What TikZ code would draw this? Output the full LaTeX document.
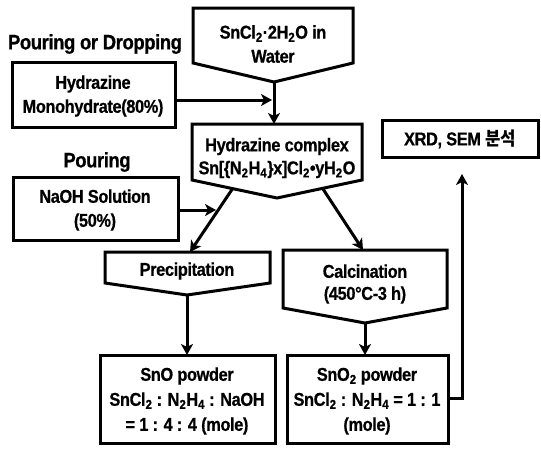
\documentclass[tikz,border=0pt]{standalone}
\usepackage{fontspec}
\setmainfont{Liberation Sans}[FakeStretch=0.88,FakeBold=0.6,LetterSpace=-2]
\newfontfamily\krfont{Noto Sans CJK KR}[FakeStretch=0.9]
\usetikzlibrary{arrows.meta}
\begin{document}
\begin{tikzpicture}[x=1pt,y=1pt,
  box/.style={draw=black,line width=3pt,line join=miter},
  txt/.style={align=center,font=\bfseries\fontsize{18.6}{24}\selectfont,inner sep=0pt},
  lbl/.style={align=center,font=\bfseries\fontsize{21}{24}\selectfont,inner sep=0pt},
  arr/.style={line width=3pt,-{Stealth[length=11pt,width=12pt,inset=3pt]}},
  ln/.style={line width=3pt}]
\useasboundingbox (0,0) rectangle (541,-448);
\fill[white] (0,0) rectangle (541,-448);

% shapes
\draw[box] (193,-8) -- (353,-8) -- (353,-63) -- (274,-82) -- (193,-63) -- cycle;
\draw[box] (12,-62) rectangle (175,-127);
\draw[box] (192,-124) -- (362,-124) -- (362,-180) -- (277,-198) -- (192,-180) -- cycle;
\draw[box] (13,-177) rectangle (178,-240);
\draw[box] (382,-120) rectangle (538,-157);
\draw[box] (105,-252) -- (270,-252) -- (270,-283) -- (187,-295) -- (105,-283) -- cycle;
\draw[box] (283,-250) -- (447,-250) -- (447,-308) -- (365,-323) -- (283,-308) -- cycle;
\draw[box] (100,-355) rectangle (275,-443);
\draw[box] (287,-355) rectangle (448,-443);

% texts
\node[lbl] (lpd) at (95,-44) {Pouring or Dropping};
\node[lbl] (lp) at (97,-162) {Pouring};
\node[txt] (sn) at (273,-44) {SnCl\textsubscript{2}·2H\textsubscript{2}O in\\Water};
\node[txt] (hm) at (93,-96) {Hydrazine\\Monohydrate(80\%)};
\node[txt,font=\bfseries\fontsize{18.6}{23}\selectfont] (hc) at (277,-158) {Hydrazine complex\\Sn[\{N\textsubscript{2}H\textsubscript{4}\}x]Cl\textsubscript{2}•yH\textsubscript{2}O};
\node[txt] (na) at (95,-210) {NaOH Solution\\(50\%)};
\node[txt] (xrd) at (460,-139) {XRD, SEM {\krfont 분석}};
\node[txt] (pr) at (187,-271) {Precipitation};
\node[txt,font=\bfseries\fontsize{18.6}{22}\selectfont] (ca) at (365,-284) {Calcination\\(450°C-3 h)};
\node[txt,font=\bfseries\fontsize{18.6}{25}\selectfont] (sno) at (187,-401) {SnO powder\\SnCl\textsubscript{2} : N\textsubscript{2}H\textsubscript{4} : NaOH\\= 1 : 4 : 4 (mole)};
\node[txt,font=\bfseries\fontsize{18.6}{25}\selectfont] (sno2) at (367,-401) {SnO\textsubscript{2} powder\\SnCl\textsubscript{2} : N\textsubscript{2}H\textsubscript{4} = 1 : 1\\(mole)};

% connector points
\coordinate (snTip) at (274,-82);
\coordinate (hcTop) at (274,-124);
\coordinate (hmR) at (175,-100);
\coordinate (joinA) at (272,-100);
\coordinate (naR) at (178,-210);
\coordinate (joinB) at (216,-210);
\coordinate (hcL) at (233,-188);
\coordinate (hcR) at (323,-189);
\coordinate (prTop) at (190,-252);
\coordinate (caTop) at (363,-250);
\coordinate (prTip) at (187,-295);
\coordinate (snoTop) at (187,-355);
\coordinate (caTip) at (365,-323);
\coordinate (sno2Top) at (365,-355);
\coordinate (sno2R) at (448,-398);
\coordinate (bend) at (462,-398);
\coordinate (xrdBelow) at (462,-174);

\draw[arr] (snTip) -- (hcTop);
\draw[arr] (hmR) -- (joinA);
\draw[arr] (naR) -- (joinB);
\draw[arr] (hcL) -- (prTop);
\draw[arr] (hcR) -- (caTop);
\draw[arr] (prTip) -- (snoTop);
\draw[arr] (caTip) -- (sno2Top);
\draw[arr,line join=miter] (sno2R) -- (bend) -- (xrdBelow);
\end{tikzpicture}
\end{document}
